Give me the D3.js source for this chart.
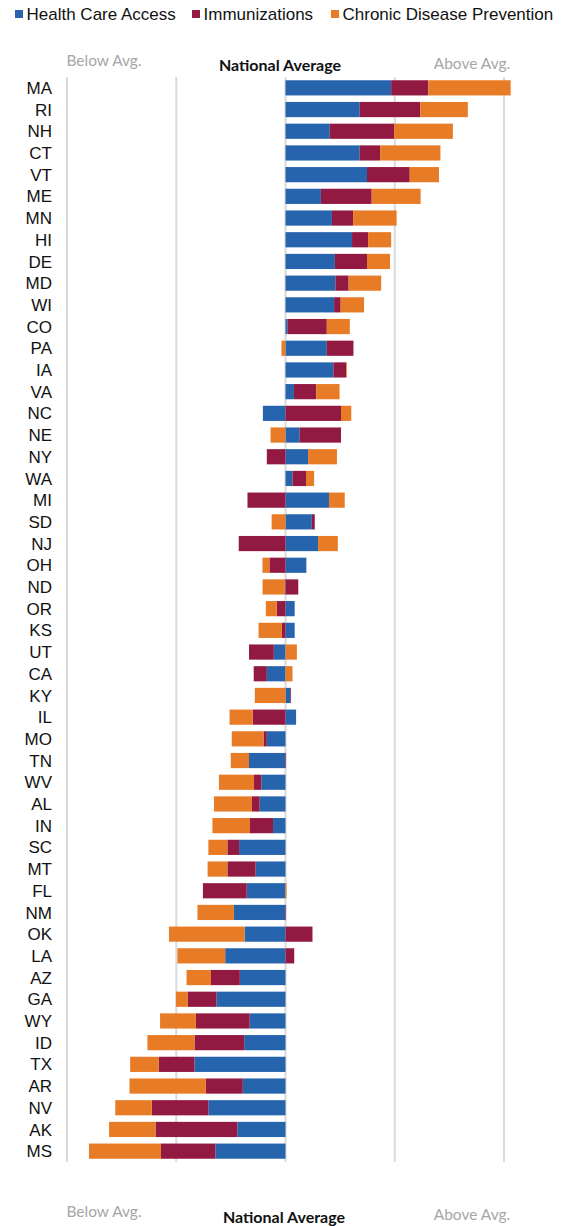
<!DOCTYPE html>
<html>
<head>
<meta charset="utf-8">
<script src="https://cdn.jsdelivr.net/npm/d3@7"></script>
<style>
  body { margin: 0; background: #fff; }
  svg { display: block; }
</style>
</head>
<body>
<svg class="figure" width="571" height="1226"></svg>
<script>
var states = ["MA","RI","NH","CT","VT","ME","MN","HI","DE","MD","WI","CO","PA","IA","VA","NC","NE","NY","WA","MI","SD","NJ","OH","ND","OR","KS","UT","CA","KY","IL","MO","TN","WV","AL","IN","SC","MT","FL","NM","OK","LA","AZ","GA","WY","ID","TX","AR","NV","AK","MS"];

// score relative to national average, per category
var access = [0.967,0.679,0.405,0.679,0.746,0.324,0.425,0.609,0.452,0.458,0.445,0.02,0.378,0.438,0.077,-0.207,0.13,0.207,0.064,0.398,0.241,0.298,0.191,-0.006,0.084,0.084,-0.107,-0.171,0.043,0.097,-0.171,-0.334,-0.221,-0.237,-0.114,-0.425,-0.274,-0.355,-0.472,-0.375,-0.552,-0.418,-0.632,-0.328,-0.378,-0.833,-0.391,-0.706,-0.441,-0.642];
var immun = [0.341,0.555,0.589,0.187,0.391,0.465,0.194,0.147,0.294,0.12,0.06,0.358,0.244,0.117,0.204,0.508,0.378,-0.171,0.124,-0.348,0.027,-0.428,-0.147,0.117,-0.08,-0.033,-0.227,-0.12,0.007,-0.301,-0.03,0.005,-0.067,-0.07,-0.211,-0.107,-0.258,-0.401,0.005,0.247,0.08,-0.264,-0.261,-0.492,-0.455,-0.328,-0.338,-0.518,-0.749,-0.498];
var chronic = [0.753,0.435,0.538,0.552,0.268,0.448,0.398,0.211,0.211,0.298,0.214,0.211,-0.037,0.007,0.214,0.094,-0.137,0.264,0.074,0.144,-0.127,0.181,-0.064,-0.204,-0.1,-0.214,0.104,0.064,-0.281,-0.211,-0.291,-0.167,-0.321,-0.348,-0.344,-0.174,-0.181,0.01,-0.334,-0.692,-0.438,-0.224,-0.11,-0.328,-0.431,-0.261,-0.699,-0.334,-0.425,-0.659];

var seriesNames = ["Health Care Access", "Immunizations", "Chronic Disease Prevention"];
var seriesKeys = ["access", "immun", "chronic"];
var colors = ["#2664ae", "#921a42", "#e87b26"];
var gridTicks = [-2, -1, 0, 1, 2];

var svg = d3.select("svg.figure");

var rows = states.map(function(s, i) {
  return {state: s, access: access[i], immun: immun[i], chronic: chronic[i]};
});

var x = d3.scaleLinear().domain([-2, 2]).range([67, 504]);
var y = d3.scaleBand().domain(states).range([77, 1162]).paddingInner(0.3).paddingOuter(0.15);

var stacked = d3.stack()
  .keys(seriesKeys)
  .offset(d3.stackOffsetDiverging)(rows);

// gridlines
svg.append("g")
  .selectAll("line")
  .data(gridTicks)
  .enter()
  .append("line")
  .attr("x1", function(d) { return x(d); })
  .attr("x2", function(d) { return x(d); })
  .attr("y1", 77)
  .attr("y2", 1162)
  .attr("stroke", "#dadada")
  .attr("stroke-width", 2);

// bars
svg.append("g")
  .selectAll("g")
  .data(stacked)
  .enter()
  .append("g")
  .attr("fill", function(d, i) { return colors[i]; })
  .selectAll("rect")
  .data(function(d) { return d; })
  .enter()
  .append("rect")
  .attr("x", function(d) { return x(Math.min(d[0], d[1])); })
  .attr("width", function(d) { return Math.abs(x(d[1]) - x(d[0])); })
  .attr("y", function(d) { return y(d.data.state); })
  .attr("height", y.bandwidth());

// state labels
svg.append("g")
  .selectAll("text")
  .data(states)
  .enter()
  .append("text")
  .attr("x", 52)
  .attr("y", function(d) { return y(d) + y.bandwidth() / 2; })
  .attr("dy", "0.36em")
  .attr("text-anchor", "end")
  .style("font-family", "'Liberation Sans', Arial, sans-serif")
  .style("font-size", "17px")
  .attr("fill", "#111")
  .text(function(d) { return d; });

// legend
var legendX = [15, 192, 331];
var legend = svg.append("g")
  .selectAll("g")
  .data(seriesNames)
  .enter()
  .append("g")
  .attr("transform", function(d, i) { return "translate(" + legendX[i] + ",0)"; });

legend.append("rect")
  .attr("x", 0)
  .attr("y", 10)
  .attr("width", 8)
  .attr("height", 8)
  .attr("fill", function(d, i) { return colors[i]; });

legend.append("text")
  .attr("x", 11.5)
  .attr("y", 14)
  .attr("dy", "0.36em")
  .style("font-family", "'Liberation Sans', Arial, sans-serif")
  .style("font-size", "17px")
  .attr("fill", "#111")
  .text(function(d) { return d; });

// top / bottom annotations
function annot(yBelow, xMid, yMid, yAbove) {
  svg.append("text")
    .attr("x", 104).attr("y", yBelow)
    .attr("text-anchor", "middle")
    .style("font-family", "Lato, 'Open Sans', sans-serif")
    .style("font-size", "15.5px")
    .attr("fill", "#a6a6a6")
    .text("Below Avg.");
  svg.append("text")
    .attr("x", xMid).attr("y", yMid)
    .attr("text-anchor", "middle")
    .style("font-family", "Lato, 'Open Sans', sans-serif")
    .style("font-size", "16px")
    .style("font-weight", "bold")
    .attr("fill", "#111")
    .text("National Average");
  svg.append("text")
    .attr("x", 472).attr("y", yAbove)
    .attr("text-anchor", "middle")
    .style("font-family", "Lato, 'Open Sans', sans-serif")
    .style("font-size", "15.5px")
    .attr("fill", "#a6a6a6")
    .text("Above Avg.");
}
annot(66, 280, 71, 69);
annot(1217, 284, 1223, 1220);
</script>
</body>
</html>
